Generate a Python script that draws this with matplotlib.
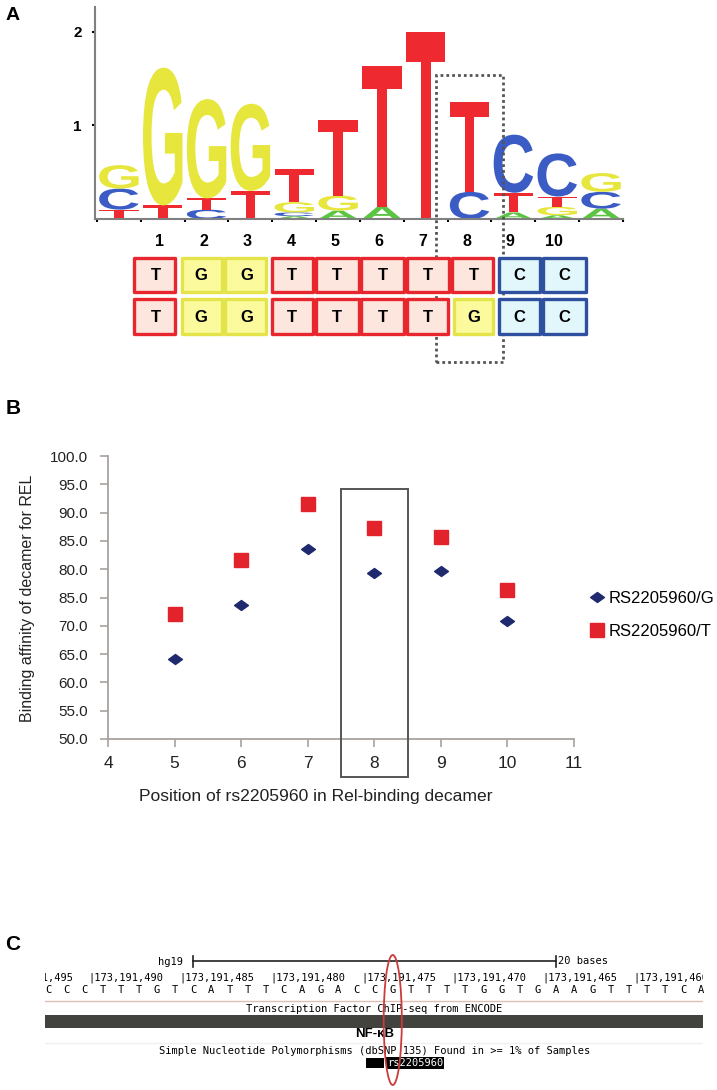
import matplotlib
matplotlib.use("Agg")
import matplotlib.pyplot as plt
from matplotlib.patches import Rectangle, PathPatch, Ellipse
from matplotlib.textpath import TextPath
from matplotlib.font_manager import FontProperties
import matplotlib.transforms as mtrans
from matplotlib.lines import Line2D

# ---------------- data ----------------
# Panel A: sequence logo (bits per base, 12 columns)
logo_cols = list(range(1, 13))
bits_A = [0.00, 0.00, 0.00, 0.00, 0.03, 0.09, 0.13, 0.00, 0.00, 0.07, 0.04, 0.11]
bits_C = [0.225, 0.00, 0.10, 0.00, 0.04, 0.00, 0.00, 0.00, 0.29, 0.62, 0.46, 0.18]
bits_G = [0.25, 1.47, 1.06, 0.93, 0.11, 0.16, 0.00, 0.00, 0.00, 0.00, 0.09, 0.20]
bits_T = [0.10, 0.145, 0.12, 0.30, 0.35, 0.81, 1.50, 2.00, 0.955, 0.21, 0.11, 0.00]
logo_yticks = [1, 2]
highlight_col = 9

# decamer positions and the two allele sequences
decamer_pos = list(range(1, 11))
seq_T_allele = ["T", "G", "G", "T", "T", "T", "T", "T", "C", "C"]
seq_G_allele = ["T", "G", "G", "T", "T", "T", "T", "G", "C", "C"]

# Panel B: binding affinity
positions = [5, 6, 7, 8, 9, 10]
affinity_G = [64.1, 73.7, 83.6, 79.4, 79.7, 70.9]
affinity_T = [72.0, 81.6, 91.5, 87.3, 85.7, 76.4]
b_xticks = [4, 5, 6, 7, 8, 9, 10, 11]
b_yticks = [50, 55, 60, 65, 70, 75, 80, 85, 90, 95, 100]
b_yticklabels = ["50.0", "55.0", "60.0", "65.0", "70.0", "85.0", "80.0",
                 "85.0", "90.0", "95.0", "100.0"]
highlight_pos = 8
series_labels = ["RS2205960/G", "RS2205960/T"]

# Panel C: genome browser
bases = list("CCCTTTGTCATTTCAGACCGTTTTGGTGAAGTTTTCA")
coord_labels = [173191495, 173191490, 173191485, 173191480,
                173191475, 173191470, 173191465, 173191460]
snp_index = 18
snp_circled = 19
scale_bases = 20

# ---------------- figure ----------------
W, H = 717, 1090
fig = plt.figure(figsize=(W / 100, H / 100), dpi=100)


def px_axes(left, top, right, bottom):
    return fig.add_axes([left / W, 1 - bottom / H, (right - left) / W, (bottom - top) / H])


SANS = "Liberation Sans"
MONO = "DejaVu Sans Mono"

# ---------- Panel A: logo ----------
fig.text(13 / W, 1 - 16 / H, "A", fontsize=14, fontweight="bold", family=SANS,
         ha="center", va="center")

axL = px_axes(94.8, 7, 623, 219)
axL.set_xlim(0.45, 12.5)
axL.set_ylim(0, 212 / 93.7)
for s in ["top", "right"]:
    axL.spines[s].set_visible(False)
for s in ["left", "bottom"]:
    axL.spines[s].set_color("#808080")
    axL.spines[s].set_linewidth(1.5)
axL.set_xticks([c - 0.5 for c in logo_cols] + [12.5])
axL.set_xticklabels([])
axL.tick_params(axis="x", direction="out", length=2.5, width=1.5, color="black")
axL.set_yticks(logo_yticks)
axL.set_yticklabels([str(v) for v in logo_yticks], fontsize=11, fontweight="bold",
                    family=SANS)
axL.tick_params(axis="y", direction="out", length=2.5, width=1.5, color="black", pad=7)

fp_logo = FontProperties(family=SANS, weight="bold")
letter_colors = {"A": "#5cc443", "C": "#3b5cc4", "G": "#e6e63c", "T": "#ee2a30"}


def draw_letter(ax, ch, x, y0, h, color, width=0.9):
    if h <= 0:
        return
    tp = TextPath((0, 0), ch, size=1, prop=fp_logo)
    bb = tp.get_extents()
    tr = (mtrans.Affine2D().translate(-bb.x0, -bb.y0)
          .scale(width / bb.width, h / bb.height)
          .translate(x - width / 2, y0))
    ax.add_patch(PathPatch(tr.transform_path(tp), fc=color, ec="none"))


for i, col in enumerate(logo_cols):
    stack = [("A", bits_A[i]), ("C", bits_C[i]), ("G", bits_G[i]), ("T", bits_T[i])]
    stack = sorted([s for s in stack if s[1] > 0], key=lambda s: s[1])
    y = 0.0
    for ch, h in stack:
        draw_letter(axL, ch, col, y, h, letter_colors[ch])
        y += h

# decamer numbers under logo (aligned with columns 2..11)
for p in decamer_pos:
    axL.text(p + 1 - 0.07, -23 / 93.7, str(p), ha="center", va="center", fontsize=11.5,
             fontweight="bold", family=SANS, clip_on=False)

# dotted highlight box around the SNP column
axL.add_patch(Rectangle((highlight_col - 0.77, -1.53), 1.53, 1.53 + 1.54, fill=False,
                        ec="#555555", lw=2.0, ls=(0, (1, 1.1)), clip_on=False, zorder=5))

# boxes with the two decamer sequences
axS = px_axes(133, 254.25, 587, 337.25)
axS.set_xlim(0.5, 10.5)
axS.set_ylim(1.5, -0.5)
axS.axis("off")
box_edge = {"T": "#e8262d", "G": "#e4e44a", "C": "#2f4f9f"}
box_face = {"T": "#fde6de", "G": "#fbfb9e", "C": "#e1f7fb"}
for r, seq in enumerate([seq_T_allele, seq_G_allele]):
    for i, (p, ch) in enumerate(zip(decamer_pos, seq)):
        gl = 0.04 if i > 0 and seq[i - 1] != ch else 0.0
        gr = 0.04 if i < len(seq) - 1 and seq[i + 1] != ch else 0.0
        axS.add_patch(Rectangle((p - 0.5 + gl + 0.03, r - 0.41), 1 - gl - gr - 0.06, 0.82,
                                fc=box_face[ch], ec=box_edge[ch], lw=2.4,
                                joinstyle="round", clip_on=False))
        axS.text(p, r + 0.02, ch, ha="center", va="center", fontsize=12,
                 fontweight="bold", family=SANS)

# ---------- Panel B ----------
fig.text(13 / W, 1 - 409 / H, "B", fontsize=15, fontweight="bold", family=SANS,
         ha="center", va="center")
axB = px_axes(108, 456, 574, 739)
axB.set_xlim(4, 11)
axB.set_ylim(50, 100)
for s in ["top", "right"]:
    axB.spines[s].set_visible(False)
for s in ["left", "bottom"]:
    axB.spines[s].set_color("#a8a29e")
    axB.spines[s].set_linewidth(1.3)
axB.set_xticks(b_xticks)
axB.set_xticklabels([str(v) for v in b_xticks], fontsize=12.5, family=SANS, color="#222222")
axB.set_yticks(b_yticks)
axB.set_yticklabels(b_yticklabels, fontsize=11, family=SANS, color="#222222")
axB.tick_params(axis="both", direction="out", length=5.5, width=1.2, color="#a8a29e")
axB.tick_params(axis="y", pad=9)
axB.tick_params(axis="x", pad=6.5)

diamond = [(-1, 0), (0, 0.72), (1, 0), (0, -0.72), (-1, 0)]
axB.plot(positions, affinity_G, ls="none", marker=diamond, ms=10, color="#1f2a6e",
         clip_on=False, zorder=4)
axB.plot(positions, affinity_T, ls="none", marker="s", ms=10.5, color="#e3232c",
         clip_on=False, zorder=4)
axB.add_patch(Rectangle((highlight_pos - 0.5, 43.3), 1.0, 94.2 - 43.3, fill=False,
                        ec="#555555", lw=1.4, clip_on=False, zorder=3))

fig.text(28 / W, 1 - 598 / H, "Binding affinity of decamer for REL", rotation=90,
         fontsize=11.5, family=SANS, color="#222222", ha="center", va="center")
fig.text(316 / W, 1 - 796 / H, "Position of rs2205960 in Rel-binding decamer",
         fontsize=12.6, family=SANS, color="#222222", ha="center", va="center")

handles = [Line2D([], [], ls="none", marker=diamond, ms=10, color="#1f2a6e"),
           Line2D([], [], ls="none", marker="s", ms=10.5, color="#e3232c")]
axB.legend(handles, series_labels, loc="upper left",
           bbox_to_anchor=(590 / W, 1 - 591 / H), bbox_transform=fig.transFigure,
           frameon=False, borderpad=0, borderaxespad=0, handlelength=0.8,
           handletextpad=0.3, labelspacing=1.05, prop={"family": SANS, "size": 12})

# ---------- Panel C ----------
fig.text(13 / W, 1 - 944 / H, "C", fontsize=15, fontweight="bold", family=SANS,
         ha="center", va="center")
axC = px_axes(45, 940, 703, 1090)
n = len(bases)
axC.set_xlim(-0.165, 36.1)
axC.set_ylim(1090, 940)
axC.axis("off")

mid = (n - 1) / 2
sb0, sb1 = mid - scale_bases / 2, mid + scale_bases / 2
axC.plot([sb0, sb1], [961.5, 961.5], color="#222222", lw=1.2)
axC.plot([sb0, sb0], [956, 967], color="#222222", lw=1.2)
axC.plot([sb1, sb1], [956, 967], color="#222222", lw=1.2)
axC.text(sb0 - 0.55, 962, "hg19", ha="right", va="center", fontsize=7.5, family=MONO)
axC.text(sb1 + 0.12, 961, f"{scale_bases} bases", ha="left", va="center", fontsize=7.5,
         family=MONO)

for k, c in enumerate(coord_labels):
    xb = 2.5 + 5 * (k - 1) - 0.25
    axC.text(xb, 978, "|" + f"{c:,}", ha="left", va="center", fontsize=7.5,
             family=MONO, clip_on=True)
for i, b in enumerate(bases):
    axC.text(i, 990, b, ha="center", va="center", fontsize=7.5, family=MONO)

axC.plot([-0.165, 36.1], [1001, 1001], color="#e0bdb6", lw=1.0)
axC.text(mid, 1009, "Transcription Factor ChIP-seq from ENCODE", ha="center",
         va="center", fontsize=7.5, family=MONO)
axC.add_patch(Rectangle((-0.165, 1015), 36.1 + 0.165, 13, fc="#42423e", ec="none"))
axC.text(mid, 1034, "NF-\u03baB", ha="center", va="center", fontsize=9.5,
         fontweight="bold", family=SANS)
axC.plot([-0.165, 36.1], [1043, 1043], color="#f0f0f0", lw=1.0)
axC.text(mid, 1051, "Simple Nucleotide Polymorphisms (dbSNP 135) Found in >= 1% of Samples",
         ha="center", va="center", fontsize=7.5, family=MONO)
axC.add_patch(Rectangle((snp_index - 0.5, 1058), 1.0, 10, fc="black", ec="none"))
axC.text(snp_index + 0.68, 1063, "rs2205960", ha="left", va="center", fontsize=7.5,
         family=MONO, color="white",
         bbox=dict(boxstyle="square,pad=0.12", fc="black", ec="none"))
axC.add_patch(Ellipse((snp_circled, 1020), 1.0, 130, fill=False, ec="#cc3b3b", lw=1.3,
                      zorder=6))

fig.savefig("out.png", dpi=100)
